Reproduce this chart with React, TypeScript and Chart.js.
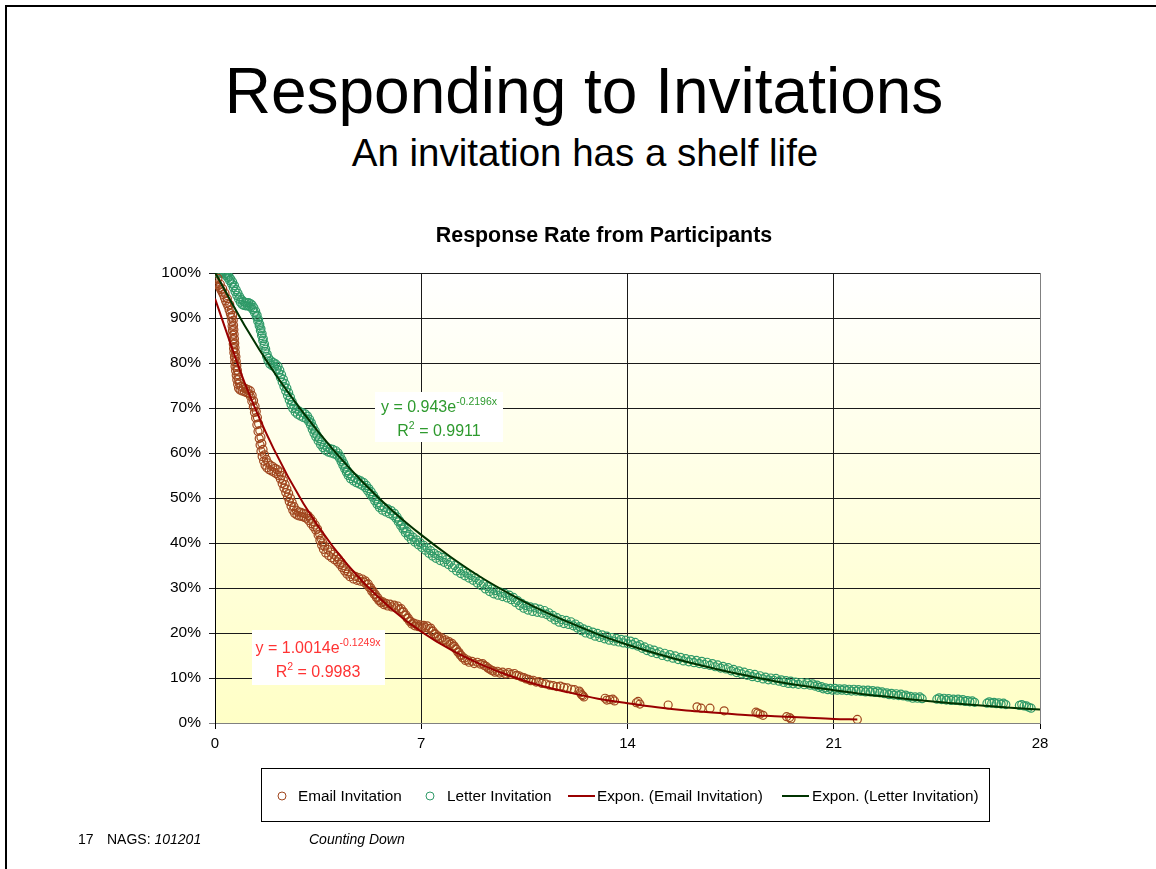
import React, { useEffect, useRef } from "react";
import { Chart, registerables } from "chart.js";

Chart.register(...registerables);

const FONT = "'Liberation Sans', Arial, Helvetica, sans-serif";

// ---- data (days since invitation, % responded) ----
const xTicks = [0, 7, 14, 21, 28];
const yTicks = [0, 10, 20, 30, 40, 50, 60, 70, 80, 90, 100];

const emailPoints: [number, number][] = [
  [0.02, 98.5], [0.05, 98], [0.08, 97.6], [0.12, 97.2], [0.16, 96.8], [0.2, 96.3], [0.24, 95.8], [0.28, 95.2],
  [0.32, 94.5], [0.36, 93.8], [0.4, 93.2], [0.44, 92.6], [0.48, 91.8], [0.52, 91], [0.55, 90.2], [0.57, 89.2],
  [0.58, 88.2], [0.59, 87.2], [0.6, 86.2], [0.61, 85.2], [0.62, 84.2], [0.63, 83.2], [0.64, 82.3], [0.66, 81.3],
  [0.67, 80.3], [0.68, 79.3], [0.7, 78.3], [0.72, 77.3], [0.74, 76.3], [0.77, 75.3], [0.8, 74.4], [0.85, 74],
  [0.92, 73.8], [1.0, 73.6], [1.08, 73.4], [1.15, 73.2], [1.2, 72.6], [1.25, 71.5], [1.3, 70.2], [1.34, 69],
  [1.38, 67.8], [1.42, 66.3], [1.46, 64.8], [1.5, 63.2], [1.53, 61.8], [1.56, 60.4], [1.6, 59.2], [1.65, 58.2],
  [1.7, 57.3], [1.76, 56.7], [1.84, 56.3], [1.92, 56], [2.0, 55.7], [2.08, 55.4], [2.16, 55], [2.22, 54.2],
  [2.28, 53.2], [2.34, 52.2], [2.4, 51.2], [2.46, 50.2], [2.52, 49.2], [2.58, 48.2], [2.64, 47.3], [2.7, 46.6],
  [2.78, 46.2], [2.86, 46], [2.94, 45.9], [3.02, 45.7], [3.1, 45.5], [3.18, 45], [3.26, 44.3], [3.34, 43.6],
  [3.42, 42.9], [3.5, 41.8], [3.56, 40.6], [3.62, 39.5], [3.68, 38.6], [3.76, 37.8], [3.86, 37.2], [3.96, 36.7],
  [4.06, 36.3], [4.16, 35.8], [4.24, 35.2], [4.32, 34.5], [4.4, 33.8], [4.48, 33.1], [4.58, 32.5], [4.7, 32],
  [4.82, 31.7], [4.94, 31.5], [5.06, 31.3], [5.15, 30.8], [5.24, 30.1], [5.32, 29.3], [5.4, 28.6], [5.48, 27.9],
  [5.56, 27.2], [5.64, 26.7], [5.74, 26.3], [5.86, 26], [6.0, 25.8], [6.14, 25.6], [6.26, 25.3], [6.36, 24.7],
  [6.44, 24], [6.52, 23.3], [6.6, 22.6], [6.68, 22], [6.78, 21.6], [6.9, 21.4], [7.02, 21.3], [7.14, 21.2],
  [7.26, 21], [7.36, 20.4], [7.44, 19.8], [7.52, 19.2], [7.62, 18.7], [7.74, 18.3], [7.86, 17.9], [7.98, 17.5],
  [8.08, 17.1], [8.16, 16.5], [8.24, 15.8], [8.32, 15.1], [8.4, 14.5], [8.5, 13.9], [8.62, 13.5], [8.8, 13.2],
  [9.0, 13.1], [9.14, 12.8], [9.26, 12.2], [9.38, 11.7], [9.5, 11.3], [9.66, 11.1], [9.86, 10.9], [10.06, 10.8],
  [10.24, 10.6], [10.4, 10.2], [10.56, 9.8], [10.72, 9.4], [10.9, 9.1], [11.1, 8.8], [11.36, 8.4], [11.6, 8.1],
  [11.84, 7.9], [12.1, 7.5], [12.36, 7.1], [12.44, 6.3], [12.52, 5.8], [13.24, 5.5], [13.4, 5.2], [13.56, 4.9],
  [14.3, 4.5], [14.42, 4.2], [15.38, 4.0], [16.36, 3.6], [16.8, 3.3], [17.28, 2.7], [18.36, 2.4], [18.5, 2.0],
  [18.6, 1.7], [19.4, 1.4], [19.55, 0.9], [21.8, 0.8],
];

// second edge of the thick email band
const emailPointsEdge: [number, number][] = [
  [0.1, 98.8], [0.18, 97.5], [0.26, 96.5], [0.34, 95.5], [0.42, 94.3], [0.5, 93], [0.56, 91.8], [0.6, 90.6],
  [0.62, 89.5], [0.63, 88.4], [0.64, 87.4], [0.65, 86.4], [0.66, 85.4], [0.67, 84.4], [0.68, 83.4], [0.69, 82.4],
  [0.71, 81.4], [0.72, 80.4], [0.74, 79.4], [0.76, 78.4], [0.78, 77.4], [0.8, 76.4], [0.83, 75.5], [0.88, 74.8],
  [0.96, 74.6], [1.04, 74.3], [1.12, 74.1], [1.2, 73.8], [1.26, 72.8], [1.31, 71.6], [1.36, 70.4], [1.4, 69.2],
  [1.44, 67.9], [1.48, 66.5], [1.52, 65], [1.56, 63.5], [1.59, 62.1], [1.63, 60.8], [1.68, 59.6], [1.74, 58.6],
  [1.8, 57.8], [1.88, 57.3], [1.96, 57], [2.04, 56.6], [2.12, 56.3], [2.2, 55.8], [2.26, 55], [2.32, 54],
  [2.38, 53], [2.44, 52], [2.5, 51], [2.56, 50], [2.62, 49], [2.68, 48.1], [2.76, 47.3], [2.84, 46.9],
  [2.92, 46.8], [3.0, 46.6], [3.08, 46.4], [3.16, 46.1], [3.24, 45.5], [3.32, 44.8], [3.4, 44], [3.48, 43.1],
  [3.55, 42], [3.6, 41], [3.66, 40], [3.72, 39.3], [3.82, 38.6], [3.92, 38], [4.02, 37.5], [4.12, 37],
  [4.2, 36.4], [4.28, 35.7], [4.36, 35], [4.44, 34.3], [4.52, 33.6], [4.64, 33], [4.76, 32.6], [4.88, 32.3],
  [5.0, 32], [5.1, 31.6], [5.2, 30.9], [5.28, 30.1], [5.36, 29.4], [5.44, 28.6], [5.52, 27.9], [5.6, 27.2],
  [5.7, 26.9], [5.8, 26.6], [5.94, 26.4], [6.08, 26.2], [6.2, 26], [6.32, 25.4], [6.4, 24.7], [6.48, 24],
  [6.56, 23.3], [6.64, 22.6], [6.74, 22.2], [6.84, 22], [6.96, 21.8], [7.08, 21.7], [7.2, 21.6], [7.32, 21.1],
  [7.4, 20.4], [7.48, 19.8], [7.58, 19.3], [7.7, 18.9], [7.82, 18.5], [7.94, 18.1], [8.04, 17.7], [8.12, 17.1],
  [8.2, 16.4], [8.28, 15.7], [8.36, 15], [8.46, 14.4], [8.58, 14], [8.72, 13.7], [8.9, 13.5], [9.08, 13.2],
  [9.2, 12.6], [9.32, 12], [9.44, 11.6], [9.58, 11.5], [9.76, 11.3], [9.96, 11.2], [10.16, 11], [10.32, 10.5],
  [10.48, 10.1], [10.64, 9.7], [10.8, 9.5], [11.0, 9.2], [11.22, 8.7], [11.48, 8.3], [11.72, 8.2], [11.96, 7.8],
  [12.2, 7.4], [12.4, 6.7], [12.48, 6.1], [13.3, 5.1], [13.5, 5.3], [14.36, 4.8], [16.5, 3.3], [18.42, 2.2],
  [19.5, 1.2],
];

const letterPoints: [number, number][] = [
  [0.12, 99.8], [0.2, 100], [0.26, 100], [0.32, 99.8], [0.38, 99.4], [0.44, 98.9], [0.5, 98.3], [0.56, 97.6],
  [0.62, 96.8], [0.68, 95.9], [0.74, 95], [0.8, 94.2], [0.86, 93.5], [0.92, 93], [0.98, 92.8], [1.04, 92.7],
  [1.1, 92.7], [1.16, 92.6], [1.22, 92.4], [1.28, 91.9], [1.34, 91.2], [1.4, 90.3], [1.45, 89.3], [1.5, 88.3],
  [1.54, 87.2], [1.58, 86.1], [1.62, 85], [1.66, 83.8], [1.7, 82.6], [1.75, 81.5], [1.8, 80.5], [1.86, 79.8],
  [1.94, 79.4], [2.02, 79.1], [2.1, 78.6], [2.16, 77.8], [2.22, 76.8], [2.28, 75.8], [2.34, 74.8], [2.4, 73.8],
  [2.46, 72.8], [2.52, 71.8], [2.58, 70.8], [2.64, 69.9], [2.72, 69.1], [2.8, 68.6], [2.9, 68.2], [3.0, 67.9],
  [3.1, 67.6], [3.18, 67], [3.24, 66.2], [3.3, 65.3], [3.36, 64.4], [3.42, 63.6], [3.5, 62.7], [3.58, 61.9],
  [3.66, 61.2], [3.74, 60.6], [3.84, 60.2], [3.94, 60], [4.04, 59.8], [4.14, 59.5], [4.22, 58.9], [4.28, 58.1],
  [4.34, 57.3], [4.4, 56.5], [4.46, 55.7], [4.52, 55], [4.6, 54.3], [4.7, 53.8], [4.8, 53.4], [4.9, 53.1],
  [5.0, 52.8], [5.1, 52.3], [5.18, 51.6], [5.26, 50.9], [5.34, 50.2], [5.42, 49.4], [5.5, 48.6], [5.58, 47.9],
  [5.68, 47.3], [5.8, 46.9], [5.92, 46.5], [6.04, 46.1], [6.14, 45.5], [6.22, 44.7], [6.3, 43.9], [6.38, 43.1],
  [6.46, 42.3], [6.56, 41.5], [6.66, 40.8], [6.78, 40.2], [6.9, 39.6], [7.02, 39], [7.14, 38.4], [7.26, 37.7],
  [7.38, 37.1], [7.5, 36.6], [7.64, 36.1], [7.78, 35.7], [7.92, 35.2], [8.06, 34.5], [8.2, 33.8], [8.34, 33.2],
  [8.48, 32.7], [8.62, 32.2], [8.76, 31.7], [8.9, 31.1], [9.04, 30.5], [9.18, 29.8], [9.32, 29.2], [9.46, 28.7],
  [9.6, 28.4], [9.76, 28.1], [9.92, 27.8], [10.06, 27.4], [10.2, 26.8], [10.34, 26.1], [10.48, 25.5], [10.62, 25.1],
  [10.78, 24.8], [10.94, 24.6], [11.1, 24.4], [11.26, 24.1], [11.4, 23.5], [11.54, 22.9], [11.68, 22.4], [11.84, 22.1],
  [12.0, 21.9], [12.16, 21.6], [12.3, 21.1], [12.44, 20.5], [12.58, 20], [12.74, 19.7], [12.9, 19.3], [13.06, 19],
  [13.22, 18.7], [13.38, 18.4], [13.54, 18.2], [13.7, 18], [13.86, 17.8], [14.02, 17.6], [14.18, 17.4], [14.34, 17.1],
  [14.5, 16.6], [14.66, 16.1], [14.82, 15.7], [15.0, 15.4], [15.18, 15], [15.36, 14.7], [15.54, 14.4], [15.72, 14.1],
  [15.9, 13.8], [16.08, 13.6], [16.26, 13.4], [16.44, 13.2], [16.62, 13], [16.8, 12.8], [16.98, 12.5], [17.16, 12.2],
  [17.34, 12], [17.52, 11.6], [17.7, 11.2], [17.88, 10.9], [18.06, 10.6], [18.24, 10.3], [18.42, 10.1], [18.6, 9.8],
  [18.78, 9.6], [18.96, 9.5], [19.14, 9.3], [19.3, 9.0], [19.46, 8.8], [19.62, 8.7], [19.8, 8.6], [20.0, 8.5],
  [20.2, 8.4], [20.36, 8.2], [20.5, 7.9], [20.64, 7.6], [20.8, 7.4], [20.96, 7.3], [21.12, 7.3], [21.28, 7.3],
  [21.44, 7.2], [21.6, 7.1], [21.76, 7.1], [21.92, 7], [22.08, 6.9], [22.24, 6.9], [22.4, 6.8], [22.56, 6.7],
  [22.72, 6.5], [22.88, 6.3], [23.04, 6.2], [23.2, 6.1], [23.36, 6.0], [23.52, 5.8], [23.68, 5.5], [23.84, 5.5],
  [24.0, 5.4], [24.5, 5.3], [24.66, 5.2], [24.82, 5.1], [24.98, 5.0], [25.14, 5.0], [25.3, 4.9], [25.46, 4.8],
  [25.62, 4.7], [25.78, 4.6], [26.2, 4.4], [26.36, 4.4], [26.52, 4.3], [26.68, 4.2], [26.84, 4.1], [27.3, 3.9],
  [27.46, 3.8], [27.62, 3.5], [27.7, 3.3],
];

// second edge of the thick letter band
const letterPointsEdge: [number, number][] = [
  [0.16, 100.2], [0.24, 100.3], [0.3, 100.2], [0.36, 100], [0.42, 99.7], [0.48, 99.2], [0.54, 98.6], [0.6, 98],
  [0.66, 97.2], [0.72, 96.3], [0.78, 95.5], [0.84, 94.7], [0.9, 94.1], [0.96, 93.7], [1.02, 93.5], [1.08, 93.4],
  [1.14, 93.4], [1.2, 93.2], [1.26, 92.9], [1.32, 92.3], [1.38, 91.5], [1.43, 90.6], [1.48, 89.6], [1.52, 88.6],
  [1.56, 87.6], [1.6, 86.5], [1.64, 85.4], [1.68, 84.2], [1.72, 83.1], [1.77, 82], [1.82, 81.1], [1.9, 80.5],
  [1.98, 80.1], [2.06, 79.8], [2.14, 79.3], [2.2, 78.4], [2.26, 77.4], [2.32, 76.4], [2.38, 75.4], [2.44, 74.4],
  [2.5, 73.4], [2.56, 72.4], [2.62, 71.4], [2.68, 70.5], [2.76, 69.8], [2.86, 69.3], [2.96, 69], [3.06, 68.7],
  [3.14, 68.2], [3.21, 67.5], [3.27, 66.7], [3.33, 65.8], [3.4, 64.9], [3.46, 64], [3.54, 63.2], [3.62, 62.5],
  [3.7, 61.8], [3.8, 61.3], [3.9, 61], [4.0, 60.8], [4.1, 60.5], [4.18, 60], [4.25, 59.3], [4.31, 58.5],
  [4.37, 57.7], [4.43, 56.9], [4.49, 56.1], [4.56, 55.4], [4.65, 54.8], [4.75, 54.4], [4.85, 54.1], [4.95, 53.8],
  [5.05, 53.4], [5.14, 52.8], [5.22, 52.1], [5.3, 51.4], [5.38, 50.6], [5.46, 49.8], [5.54, 49], [5.63, 48.3],
  [5.74, 47.9], [5.86, 47.6], [5.98, 47.2], [6.09, 46.6], [6.18, 45.8], [6.26, 45], [6.34, 44.2], [6.42, 43.4],
  [6.51, 42.6], [6.61, 41.9], [6.72, 41.3], [6.84, 40.7], [6.96, 40.1], [7.08, 39.5], [7.2, 38.9], [7.32, 38.3],
  [7.44, 37.7], [7.57, 37.2], [7.71, 36.8], [7.85, 36.3], [7.99, 35.7], [8.13, 35], [8.27, 34.3], [8.41, 33.8],
  [8.55, 33.3], [8.69, 32.8], [8.83, 32.3], [8.97, 31.6], [9.11, 30.9], [9.25, 30.3], [9.39, 29.8], [9.53, 29.4],
  [9.68, 29.1], [9.84, 28.8], [9.99, 28.4], [10.13, 27.9], [10.27, 27.2], [10.41, 26.6], [10.55, 26.1], [10.7, 25.8],
  [10.86, 25.6], [11.02, 25.3], [11.18, 25], [11.33, 24.5], [11.47, 23.9], [11.61, 23.4], [11.76, 23], [11.92, 22.8],
  [12.08, 22.5], [12.23, 22], [12.37, 21.4], [12.51, 20.9], [12.66, 20.6], [12.82, 20.2], [12.98, 19.9], [13.14, 19.6],
  [13.3, 19.3], [13.46, 19], [13.62, 18.8], [13.78, 18.6], [13.94, 18.4], [14.1, 18.2], [14.26, 17.9], [14.42, 17.4],
  [14.58, 16.9], [14.74, 16.5], [14.9, 16.2], [15.08, 15.8], [15.26, 15.5], [15.44, 15.2], [15.62, 14.9], [15.8, 14.6],
  [15.98, 14.3], [16.16, 14.1], [16.34, 13.9], [16.52, 13.7], [16.7, 13.5], [16.88, 13.2], [17.06, 12.9], [17.24, 12.6],
  [17.42, 12.3], [17.6, 11.9], [17.78, 11.6], [17.96, 11.3], [18.14, 11], [18.32, 10.8], [18.5, 10.5], [18.68, 10.2],
  [18.86, 10], [19.04, 9.9], [19.22, 9.6], [19.38, 9.4], [19.54, 9.3], [19.7, 9.1], [19.9, 9], [20.1, 8.9],
  [20.28, 8.7], [20.44, 8.4], [20.58, 8.1], [20.72, 7.8], [20.88, 7.7], [21.04, 7.7], [21.2, 7.6], [21.36, 7.6],
  [21.52, 7.5], [21.68, 7.5], [21.84, 7.4], [22.0, 7.3], [22.16, 7.3], [22.32, 7.2], [22.48, 7.1], [22.64, 6.9],
  [22.8, 6.7], [22.96, 6.6], [23.12, 6.5], [23.28, 6.4], [23.44, 6.2], [23.6, 5.9], [23.76, 5.8], [23.92, 5.8],
  [24.58, 5.6], [24.74, 5.5], [24.9, 5.4], [25.06, 5.3], [25.22, 5.3], [25.38, 5.2], [25.54, 5.0], [25.7, 4.9],
  [26.28, 4.7], [26.44, 4.6], [26.6, 4.5], [26.76, 4.4], [27.38, 4.1], [27.54, 3.8],
];

const emailTrend: [number, number][] = [
  [0, 94.3], [1, 75.7], [2, 60.8], [3, 48.8], [4, 39.2], [5, 31.5], [6, 25.3], [7, 20.3], [8, 16.3],
  [9, 13.1], [10, 10.5], [11, 8.4], [12, 6.8], [13, 5.4], [14, 4.4], [15, 3.5], [16, 2.8], [17, 2.3],
  [18, 1.8], [19, 1.5], [20, 1.2], [21, 0.9], [21.8, 0.8],
];

const letterTrend: [number, number][] = [
  [0, 100.1], [1, 88.4], [2, 78.0], [3, 68.9], [4, 60.8], [5, 53.6], [6, 47.3], [7, 41.8], [8, 36.9],
  [9, 32.5], [10, 28.7], [11, 25.3], [12, 22.4], [13, 19.7], [14, 17.4], [15, 15.4], [16, 13.6], [17, 12.0],
  [18, 10.6], [19, 9.3], [20, 8.2], [21, 7.3], [22, 6.4], [23, 5.7], [24, 5.0], [25, 4.4], [26, 3.9],
  [27, 3.4], [28, 3.0],
];

const seriesLabels = ["Email Invitation", "Letter Invitation", "Expon. (Email Invitation)", "Expon. (Letter Invitation)"];
const eqLetter = ["y = 0.943e", "-0.2196x", "0.9911"];
const eqEmail = ["y = 1.0014e", "-0.1249x", "0.9983"];

const EMAIL_C = "#a0461e";
const LETTER_C = "#2f9a68";
const EMAIL_T = "#990000";
const LETTER_T = "#003300";

const toXY = (a: [number, number][]) => a.map(([x, y]) => ({ x, y }));

const bgPlugin = {
  id: "bgGradient",
  beforeDraw(chart: any) {
    const { ctx, chartArea: ca } = chart;
    const g = ctx.createLinearGradient(0, ca.top, 0, ca.bottom);
    g.addColorStop(0, "#ffffff");
    g.addColorStop(1, "#ffffc6");
    ctx.save();
    ctx.fillStyle = g;
    ctx.fillRect(ca.left, ca.top, ca.right - ca.left, ca.bottom - ca.top);
    ctx.restore();
  },
};

function drawEq(ctx: any, cx: number, y1: number, y2: number, eq: string[], color: string) {
  ctx.fillStyle = color;
  ctx.textBaseline = "alphabetic";
  ctx.textAlign = "left";
  const big = `16px ${FONT}`;
  const small = `10.5px ${FONT}`;
  ctx.font = big;
  const w1 = ctx.measureText(eq[0]).width;
  ctx.font = small;
  const w1s = ctx.measureText(eq[1]).width;
  let x = cx - (w1 + w1s) / 2;
  ctx.font = big;
  ctx.fillText(eq[0], x, y1);
  ctx.font = small;
  ctx.fillText(eq[1], x + w1, y1 - 7);
  ctx.font = big;
  const wR = ctx.measureText("R").width;
  const rest = " = " + eq[2];
  const wRest = ctx.measureText(rest).width;
  ctx.font = small;
  const w2 = ctx.measureText("2").width;
  x = cx - (wR + w2 + wRest) / 2;
  ctx.font = big;
  ctx.fillText("R", x, y2);
  ctx.font = small;
  ctx.fillText("2", x + wR, y2 - 7);
  ctx.font = big;
  ctx.fillText(rest, x + wR + w2, y2);
}

const labelsPlugin = {
  id: "eqLabels",
  afterDatasetsDraw(chart: any) {
    const { ctx, chartArea: ca } = chart;
    ctx.save();
    let bx = ca.left + 160, by = ca.top + 119;
    ctx.fillStyle = "#ffffff";
    ctx.fillRect(bx, by, 128, 50);
    drawEq(ctx, bx + 64, by + 20, by + 44, eqLetter, "#2e9a2e");
    bx = ca.left + 37; by = ca.top + 357;
    ctx.fillStyle = "#ffffff";
    ctx.fillRect(bx, by, 133, 55);
    drawEq(ctx, bx + 66, by + 23, by + 47, eqEmail, "#ff3333");
    ctx.restore();
  },
};

const titlePlugin = {
  id: "chartTitle",
  afterDraw(chart: any) {
    const { ctx } = chart;
    ctx.save();
    ctx.font = `bold 21.4px ${FONT}`;
    ctx.fillStyle = "#000";
    ctx.textAlign = "center";
    ctx.textBaseline = "alphabetic";
    ctx.fillText("Response Rate from Participants", 604, 242);
    ctx.restore();
  },
};

const legendPlugin = {
  id: "boxLegend",
  afterDraw(chart: any) {
    const { ctx } = chart;
    const ds = chart.data.datasets;
    const markX = [282, 430, 568, 782];
    const textX = [298, 447, 597, 812];
    const y = 796;
    ctx.save();
    ctx.strokeStyle = "#000";
    ctx.lineWidth = 1;
    ctx.strokeRect(261.5, 768.5, 728, 53);
    ctx.font = `15.3px ${FONT}`;
    ctx.textBaseline = "middle";
    ctx.textAlign = "left";
    ds.forEach((d: any, i: number) => {
      if (d.showLine) {
        ctx.strokeStyle = d.borderColor;
        ctx.lineWidth = 2;
        ctx.beginPath();
        ctx.moveTo(markX[i], y);
        ctx.lineTo(markX[i] + 27, y);
        ctx.stroke();
      } else {
        ctx.strokeStyle = d.borderColor;
        ctx.lineWidth = 1;
        ctx.beginPath();
        ctx.arc(markX[i], y, 4, 0, Math.PI * 2);
        ctx.stroke();
      }
      ctx.fillStyle = "#000";
      ctx.fillText(d.label, textX[i], y + 1);
    });
    ctx.restore();
  },
};

export default function App() {
  const ref = useRef<HTMLCanvasElement>(null);

  useEffect(() => {
    document.body.style.margin = "0";
    const canvas = ref.current!;
    const gridCol = (v: number, edge: number) => (v === edge ? "#808080" : "#1a1a1a");
    const chart = new Chart(canvas, {
      type: "scatter",
      data: {
        datasets: [
          {
            label: seriesLabels[0],
            data: toXY([...emailPoints, ...emailPointsEdge]),
            borderColor: EMAIL_C,
            backgroundColor: "rgba(0,0,0,0)",
            pointRadius: 4,
            pointBorderWidth: 1.2,
            showLine: false,
            order: 2,
          },
          {
            label: seriesLabels[1],
            data: toXY([...letterPoints, ...letterPointsEdge]),
            borderColor: LETTER_C,
            backgroundColor: "rgba(0,0,0,0)",
            pointRadius: 4,
            pointBorderWidth: 1.2,
            showLine: false,
            order: 3,
          },
          {
            type: "line",
            label: seriesLabels[2],
            data: toXY(emailTrend),
            borderColor: EMAIL_T,
            borderWidth: 2,
            pointRadius: 0,
            showLine: true,
            fill: false,
            cubicInterpolationMode: "monotone",
            order: 1,
          },
          {
            type: "line",
            label: seriesLabels[3],
            data: toXY(letterTrend),
            borderColor: LETTER_T,
            borderWidth: 2,
            pointRadius: 0,
            showLine: true,
            fill: false,
            cubicInterpolationMode: "monotone",
            order: 0,
          },
        ] as any,
      },
      options: {
        responsive: false,
        animation: false,
        layout: { padding: { left: 145, right: 116, top: 273, bottom: 106 } },
        plugins: { legend: { display: false }, title: { display: false }, tooltip: { enabled: false } },
        scales: {
          x: {
            type: "linear",
            min: 0,
            max: 28,
            afterBuildTicks: (s: any) => {
              s.ticks = xTicks.map((v) => ({ value: v }));
            },
            afterFit: (s: any) => {
              s.height = 40;
            },
            ticks: {
              color: "#000",
              font: { family: FONT, size: 15 },
              padding: 6,
              maxRotation: 0,
              autoSkip: false,
            },
            grid: {
              color: (c: any) => gridCol(c.tick?.value, 28),
              tickColor: "#000",
              lineWidth: 1,
              tickLength: 6,
            },
            border: { color: "#808080", width: 1 },
          },
          y: {
            type: "linear",
            min: 0,
            max: 100,
            afterBuildTicks: (s: any) => {
              s.ticks = yTicks.map((v) => ({ value: v }));
            },
            afterFit: (s: any) => {
              s.width = 70;
            },
            ticks: {
              color: "#000",
              font: { family: FONT, size: 15.5 },
              padding: 8,
              autoSkip: false,
              callback: (v: any) => `${v}%`,
            },
            grid: {
              color: (c: any) => gridCol(c.tick?.value, 0),
              tickColor: (c: any) => gridCol(c.tick?.value, 0),
              lineWidth: 1,
              tickLength: 6,
            },
            border: { color: "#000", width: 1 },
          },
        },
      },
      plugins: [bgPlugin, labelsPlugin, titlePlugin, legendPlugin],
    });
    return () => chart.destroy();
  }, []);

  const text: React.CSSProperties = {
    position: "absolute",
    fontFamily: FONT,
    color: "#000",
    whiteSpace: "nowrap",
    lineHeight: 1,
  };

  return (
    <div
      style={{
        position: "absolute",
        left: 0,
        top: 0,
        width: 1156,
        height: 869,
        background: "#fff",
        overflow: "hidden",
      }}
    >
      <div style={{ position: "absolute", left: 5, top: 5, right: 0, height: 2, background: "#000" }} />
      <div style={{ position: "absolute", left: 5, top: 5, bottom: 0, width: 2, background: "#000" }} />
      <div style={{ ...text, left: 0, width: 1168, textAlign: "center", top: 59, fontSize: 64 }}>
        Responding to Invitations
      </div>
      <div style={{ ...text, left: 0, width: 1170, textAlign: "center", top: 134, fontSize: 38.5 }}>
        An invitation has a shelf life
      </div>
      <canvas ref={ref} width={1156} height={869} style={{ position: "absolute", left: 0, top: 0 }} />
      <div style={{ ...text, left: 78, top: 832, fontSize: 14 }}>17</div>
      <div style={{ ...text, left: 107, top: 832, fontSize: 14 }}>
        NAGS: <i>101201</i>
      </div>
      <div style={{ ...text, left: 309, top: 832, fontSize: 14, fontStyle: "italic" }}>Counting Down</div>
    </div>
  );
}
